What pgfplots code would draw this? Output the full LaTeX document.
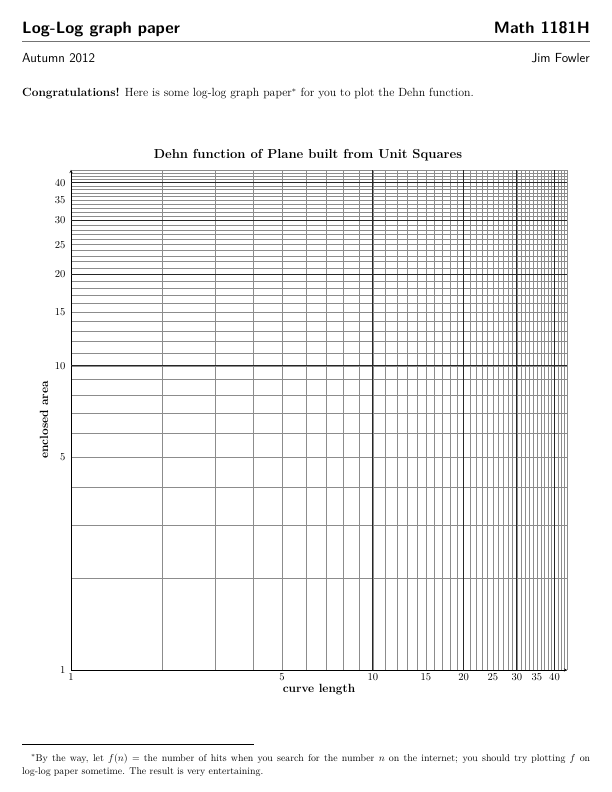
\documentclass[border=0pt]{standalone}
\usepackage{pgfplots}
\pgfplotsset{compat=1.18}
\begin{document}
\begin{tikzpicture}
\path[use as bounding box] (0bp,0bp) rectangle (612bp,792bp);
% page header
\node[anchor=base west,inner sep=0] at (22bp,758bp) {\fontsize{16.5}{20}\selectfont\sffamily\bfseries Log-Log graph paper};
\node[anchor=base east,inner sep=0] at (590bp,758bp) {\fontsize{16.5}{20}\selectfont\sffamily\bfseries Math 1181H};
\draw[line width=0.5pt, black!55] (22bp,751bp) -- (590bp,751bp);
\node[anchor=base west,inner sep=0] at (22bp,729bp) {\fontsize{13.2}{16}\selectfont\sffamily Autumn 2012};
\node[anchor=base east,inner sep=0] at (590bp,729bp) {\fontsize{13.2}{16}\selectfont\sffamily Jim Fowler};
\node[anchor=base west,inner sep=0] at (22bp,695bp) {\fontsize{11.9}{14}\selectfont\textbf{Congratulations!} Here is some log-log graph paper$^*$ for you to plot the Dehn function.};
% title
\node[anchor=base] at (308bp,633bp) {\fontsize{13.1}{15}\selectfont\bfseries Dehn function of Plane built from Unit Squares};
% footnote
\draw[line width=0.4pt] (22bp,48bp) -- (254bp,48bp);
\node[anchor=base west,inner sep=0] at (22bp,31bp) {\parbox[t]{568bp}{\fontsize{9.9}{13.8}\selectfont\hspace*{0.9em}$^*$By the way, let $f(n)$ = the number of hits when you search for the number $n$ on the internet; you should try plotting $f$ on\linebreak log-log paper sometime. The result is very entertaining.}};
\begin{axis}[
  at={(71bp,122bp)}, anchor=south west,
  scale only axis, width=496bp, height=500bp,
  xmode=log, ymode=log,
  xmin=1, xmax=44, ymin=1, ymax=44,
  axis lines=left,
  xtick={1,5,10,15,20,25,30,35,40},
  ytick={1,5,10,15,20,25,30,35,40},
  xticklabels={1,5,10,15,20,25,30,35,40},
  yticklabels={1,5,10,15,20,25,30,35,40},
  minor xtick={2,3,4,6,7,8,9,11,12,13,14,16,17,18,19,21,22,23,24,26,27,28,29,31,32,33,34,36,37,38,39,41,42,43,44},
  minor ytick={2,3,4,6,7,8,9,11,12,13,14,16,17,18,19,21,22,23,24,26,27,28,29,31,32,33,34,36,37,38,39,41,42,43,44},
  major tick length=0pt, minor tick length=0pt,
  grid=both,
  major grid style={black!45, line width=0.4pt},
  minor grid style={black!45, line width=0.4pt},
  extra x ticks={10,20,30,40}, extra y ticks={10,20,30,40},
  extra x tick labels={}, extra y tick labels={},
  extra tick style={grid=major, major grid style={black!85, line width=0.8pt}},
  tick label style={font=\fontsize{10.6}{12}\selectfont},
  yticklabel style={xshift=-2pt},
  label style={font=\fontsize{11.9}{14}\selectfont\bfseries},
  xlabel={curve length},
  ylabel={enclosed area},
  xlabel style={yshift=3pt},
]
\addplot[draw=none] coordinates {(1,1) (44,44)};
\end{axis}
\end{tikzpicture}
\end{document}
